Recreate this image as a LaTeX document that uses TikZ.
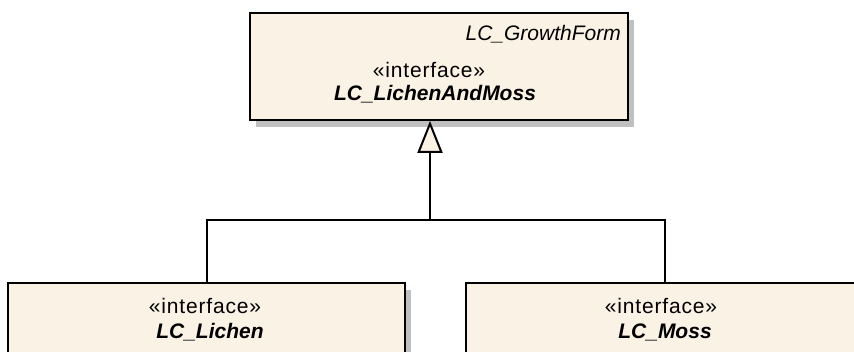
\documentclass[tikz,border=0pt]{standalone}
\usepackage{fontspec}
\setmainfont{Liberation Sans}
\usepackage{tikz}
\usetikzlibrary{calc,positioning,arrows.meta,shadows}
\definecolor{umlfill}{RGB}{251,242,230}
\definecolor{umlshadow}{RGB}{192,192,192}
\tikzset{
	umlbox/.style={draw=black,line width=1.8pt,fill=umlfill,minimum height=107pt,inner sep=0pt,
		drop shadow={shadow xshift=6pt,shadow yshift=-7pt,fill=umlshadow,opacity=1}},
	stereo/.style={font=\fontsize{21}{23}\selectfont\addfontfeature{LetterSpace=4}, inner sep=0pt,anchor=base},
	classname/.style={font=\fontsize{21}{23}\selectfont\bfseries\itshape,inner sep=0pt,anchor=base},
	pkgname/.style={font=\fontsize{21}{23}\selectfont\itshape,inner sep=0pt,anchor=base east},
	link/.style={line width=2pt},
	generalize/.style={line width=2pt,-{Triangle[width=25pt,length=32pt,fill=umlfill]}}
}
\begin{document}
\begin{tikzpicture}[x=1pt,y=-1pt]
		\useasboundingbox (0,0) rectangle (854,351);
		% classes
		\node[umlbox,minimum width=378pt] (lichenandmoss) at (439,66.5) {};
		\node[umlbox,minimum width=397pt] (lichen) at (206.5,336.5) {};
		\node[umlbox,minimum width=397pt] (moss) at (664.5,336.5) {};
		% texts
		\node[pkgname] (growthform) at (621,40) {LC\_GrowthForm};
		\node[stereo] (lamstereo) at (429,77) {«interface»};
		\node[classname] (lamname) at (435,100.5) {LC\_LichenAndMoss};
		\node[stereo] (lichenstereo) at (205,313.5) {«interface»};
		\node[classname] (lichenname) at (210,338) {LC\_Lichen};
		\node[stereo] (mossstereo) at (661,313.5) {«interface»};
		\node[classname] (mossname) at (665,338) {LC\_Moss};
		% generalization
		\coordinate (join) at (430,220);
		\draw[link] (lichen.north) |- (join) -| (moss.north);
		\draw[generalize] (join) -- (join |- lichenandmoss.south);
	\end{tikzpicture}
\end{document}
